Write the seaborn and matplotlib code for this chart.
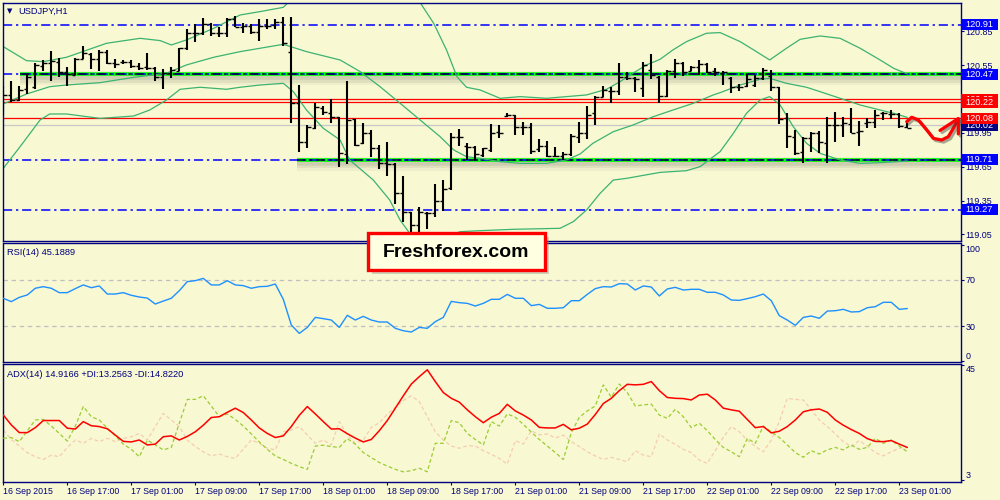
import numpy as np
import pandas as pd
import matplotlib
matplotlib.use("Agg")
import matplotlib.pyplot as plt
import matplotlib.transforms as mtrans
import matplotlib.patheffects as pe
from matplotlib.patches import Rectangle
import seaborn as sns

sns.set_theme(style="white")
plt.rcParams['font.family'] = ['Liberation Sans', 'DejaVu Sans']

# ---------------- data ----------------
symbol = "USDJPY,H1"
time_labels = ["16 Sep 2015", "16 Sep 17:00", "17 Sep 01:00", "17 Sep 09:00",
               "17 Sep 17:00", "18 Sep 01:00", "18 Sep 09:00", "18 Sep 17:00",
               "21 Sep 01:00", "21 Sep 09:00", "21 Sep 17:00", "22 Sep 01:00",
               "22 Sep 09:00", "22 Sep 17:00", "23 Sep 01:00"]

open_ = [120.242, 120.287, 120.242, 120.337, 120.355, 120.547, 120.567, 120.582, 120.494, 120.464,
         120.603, 120.650, 120.603, 120.671, 120.573, 120.579, 120.582, 120.544, 120.538, 120.523,
         120.443, 120.479, 120.502, 120.701, 120.834, 120.834, 120.916, 120.834, 120.834, 120.958,
         120.893, 120.899, 120.849, 120.899, 120.908, 120.937, 120.671, 120.218, 119.872, 119.991,
         120.168, 120.124, 120.088, 119.763, 120.071, 119.858, 119.946, 119.813, 119.680, 119.674,
         119.414, 119.251, 119.133, 119.242, 119.242, 119.349, 119.458, 119.917, 119.834, 119.828,
         119.754, 119.798, 119.961, 120.100, 120.109, 120.005, 120.005, 119.804, 119.834, 119.745,
         119.745, 119.763, 119.917, 119.946, 120.124, 120.272, 120.325, 120.325, 120.443, 120.434,
         120.346, 120.508, 120.449, 120.278, 120.502, 120.567, 120.502, 120.538, 120.561, 120.502,
         120.485, 120.434, 120.360, 120.366, 120.375, 120.434, 120.455, 120.355, 120.079, 119.917,
         119.784, 119.902, 119.952, 119.864, 120.020, 120.020, 120.029, 119.961, 120.041, 120.050,
         120.124, 120.118, 120.118, 119.999]
high = [120.366, 120.411, 120.366, 120.473, 120.567, 120.597, 120.677, 120.612, 120.538, 120.612,
        120.721, 120.662, 120.686, 120.686, 120.603, 120.597, 120.597, 120.567, 120.662, 120.538,
        120.514, 120.538, 120.701, 120.869, 120.916, 120.967, 120.922, 120.887, 120.967, 120.988,
        120.928, 120.916, 120.958, 120.958, 120.958, 120.982, 120.982, 120.375, 120.020, 120.212,
        120.189, 120.248, 120.088, 120.411, 120.071, 120.035, 119.976, 119.843, 119.872, 119.680,
        119.568, 119.251, 119.290, 119.251, 119.497, 119.532, 119.946, 119.982, 119.864, 119.834,
        119.813, 120.029, 120.020, 120.124, 120.109, 120.050, 120.035, 119.893, 119.881, 119.828,
        119.784, 119.940, 120.050, 120.189, 120.278, 120.366, 120.355, 120.573, 120.494, 120.449,
        120.582, 120.650, 120.455, 120.508, 120.603, 120.582, 120.544, 120.597, 120.567, 120.523,
        120.502, 120.443, 120.384, 120.473, 120.464, 120.523, 120.508, 120.355, 120.124, 119.976,
        119.917, 119.961, 119.970, 120.094, 120.139, 120.088, 120.168, 120.059, 120.079, 120.153,
        120.139, 120.153, 120.130, 120.035]
low = [120.109, 120.227, 120.236, 120.295, 120.337, 120.502, 120.414, 120.443, 120.366, 120.464,
       120.603, 120.514, 120.502, 120.561, 120.523, 120.561, 120.523, 120.508, 120.508, 120.414,
       120.337, 120.434, 120.502, 120.686, 120.760, 120.819, 120.810, 120.798, 120.804, 120.887,
       120.840, 120.828, 120.769, 120.869, 120.869, 120.721, 120.041, 119.784, 119.813, 119.982,
       120.109, 120.041, 119.645, 119.674, 119.834, 119.852, 119.739, 119.627, 119.571, 119.319,
       119.163, 119.059, 119.044, 119.095, 119.201, 119.260, 119.444, 119.834, 119.710, 119.710,
       119.739, 119.784, 119.902, 120.088, 119.932, 119.932, 119.763, 119.784, 119.739, 119.733,
       119.710, 119.745, 119.858, 119.893, 120.020, 120.266, 120.218, 120.287, 120.420, 120.316,
       120.272, 120.426, 120.218, 120.272, 120.434, 120.455, 120.502, 120.464, 120.485, 120.455,
       120.375, 120.307, 120.325, 120.355, 120.355, 120.420, 120.325, 120.029, 119.813, 119.754,
       119.680, 119.784, 119.775, 119.680, 119.872, 119.911, 119.952, 119.834, 119.991, 119.991,
       120.065, 120.071, 119.991, 119.991]
close = [120.287, 120.242, 120.331, 120.449, 120.553, 120.567, 120.588, 120.494, 120.473, 120.603,
         120.656, 120.603, 120.671, 120.567, 120.561, 120.579, 120.544, 120.523, 120.523, 120.443,
         120.479, 120.508, 120.701, 120.834, 120.840, 120.916, 120.834, 120.834, 120.958, 120.893,
         120.899, 120.849, 120.899, 120.899, 120.937, 120.745, 120.212, 119.872, 120.005, 120.177,
         120.139, 120.088, 119.775, 120.065, 119.843, 119.946, 119.813, 119.680, 119.674, 119.414,
         119.251, 119.133, 119.251, 119.242, 119.349, 119.449, 119.917, 119.917, 119.828, 119.763,
         119.813, 119.952, 119.952, 120.109, 120.005, 119.999, 119.793, 119.834, 119.745, 119.745,
         119.763, 119.923, 119.952, 120.109, 120.272, 120.331, 120.325, 120.443, 120.434, 120.426,
         120.553, 120.464, 120.278, 120.502, 120.573, 120.494, 120.532, 120.561, 120.494, 120.494,
         120.494, 120.355, 120.360, 120.426, 120.434, 120.508, 120.355, 120.071, 119.923, 119.775,
         119.902, 119.952, 119.872, 120.020, 120.020, 120.035, 119.952, 119.970, 120.050, 120.109,
         120.124, 120.118, 120.011, 119.991]

# Bollinger bands, sampled at bar positions
bb_upper_t = [0, 2.9, 5, 7.9, 12.9, 17.1, 19.6, 21, 22.9, 26.3, 29.6, 32.1, 35, 35.6, 37.9, 40,
              42.1, 44, 46.25, 48.3, 50.5, 52.1, 53.8, 55.4, 56.7, 57.9, 59.6, 62.1, 64.6, 67.9,
              72.9, 75.4, 77.1, 78.7, 80.4, 82.1, 83.7, 85.4, 87.9, 89.6, 92.1, 93.8, 95.8, 97.9,
              99.6, 102.1, 104.6, 107.1, 109.6, 111.3, 113]
bb_upper = [120.715, 120.591, 120.582, 120.621, 120.745, 120.789, 120.769, 120.730, 120.775,
            120.878, 120.996, 121.026, 121.064, 121.106, 121.19, 121.27, 121.31, 121.33, 121.27,
            121.22, 121.20, 121.106, 120.922, 120.686, 120.449, 120.355, 120.331, 120.257, 120.272,
            120.257, 120.287, 120.337, 120.405, 120.479, 120.553, 120.603, 120.686, 120.760,
            120.834, 120.840, 120.760, 120.686, 120.597, 120.701, 120.780, 120.810, 120.789,
            120.701, 120.597, 120.523, 120.473]
bb_mid_t = [0, 2.9, 5.8, 7.9, 12.1, 16.3, 20.4, 22.9, 26.3, 29.6, 32.1, 35, 37.9, 42.1, 44.6,
            47.1, 49.6, 52.1, 54.6, 56.3, 57.9, 59.6, 62.1, 64.6, 67.9, 70.4, 72.1, 73.7, 76.25,
            78.7, 81.25, 83.7, 86.25, 88.75, 89.6, 92.1, 94.6, 95.8, 97.9, 100.4, 102.1, 104.6,
            107.1, 109.6, 111.3, 113]
bb_mid = [120.207, 120.295, 120.360, 120.375, 120.396, 120.443, 120.479, 120.553, 120.621,
          120.671, 120.701, 120.736, 120.671, 120.597, 120.494, 120.360, 120.213, 120.065,
          119.917, 119.799, 119.739, 119.725, 119.695, 119.680, 119.680, 119.710, 119.763,
          119.858, 119.961, 120.020, 120.094, 120.153, 120.213, 120.287, 120.307, 120.375,
          120.426, 120.434, 120.390, 120.355, 120.316, 120.257, 120.198, 120.153, 120.124, 120.088]
bb_lower_t = [0, 2.1, 4.6, 5.8, 7.9, 12.1, 16.3, 18.3, 20.4, 22.1, 24.6, 27.9, 29.6, 32.1, 35,
              36.25, 37.9, 40, 42.1, 43.3, 46.25, 48.3, 49.6, 50.8, 52.5, 55, 57.1, 59.6, 63.75,
              69.6, 71.25, 72.9, 74.6, 76.25, 77.9, 82.1, 85.4, 87.1, 88.75, 89.6, 91.25, 92.9,
              94.6, 95.8, 97.1, 98.75, 100.4, 102.1, 104.6, 107.1, 109.6, 113]
bb_lower = [119.636, 119.828, 120.065, 120.118, 120.118, 120.079, 120.100, 120.153, 120.242,
            120.337, 120.355, 120.337, 120.355, 120.375, 120.390, 120.316, 120.153, 119.991,
            119.887, 119.710, 119.532, 119.355, 119.177, 119.059, 119.00, 119.02, 119.074,
            119.083, 119.095, 119.104, 119.163, 119.266, 119.414, 119.532, 119.547, 119.600,
            119.615, 119.651, 119.739, 119.784, 119.946, 120.124, 120.242, 120.272, 120.198,
            120.005, 119.858, 119.769, 119.710, 119.680, 119.686, 119.700]

rsi = [54.1, 51.2, 54.9, 57.0, 62.8, 64.2, 62.8, 59.0, 59.0, 62.5,
       65.7, 63.3, 64.8, 57.8, 57.8, 59.0, 56.7, 55.2, 54.3, 49.1,
       51.7, 54.1, 60.7, 68.6, 69.4, 71.4, 65.7, 65.7, 69.4, 65.7,
       65.1, 62.8, 64.2, 64.5, 66.5, 53.2, 30.9, 23.6, 28.8, 37.5,
       36.4, 35.2, 28.8, 39.3, 35.2, 38.4, 35.2, 33.5, 33.5, 28.0,
       25.9, 24.8, 28.8, 28.0, 33.8, 37.5, 51.4, 50.3, 49.7, 47.4,
       49.7, 53.2, 53.2, 57.5, 54.1, 54.1, 47.7, 48.8, 45.4, 45.4,
       45.9, 52.0, 52.0, 57.5, 62.5, 64.2, 63.9, 66.8, 66.5, 61.3,
       64.8, 63.9, 56.1, 62.2, 63.6, 61.3, 61.9, 61.9, 59.3, 59.3,
       57.0, 52.6, 52.3, 53.8, 55.5, 57.8, 52.0, 39.0, 35.2, 30.6,
       37.5, 38.7, 36.7, 43.0, 43.3, 44.5, 42.2, 42.5, 45.9, 46.8,
       50.6, 50.6, 44.5, 45.2]

adx = [26.7, 23.1, 20.3, 20.3, 22.1, 24.7, 24.7, 24.7, 21.9, 21.6,
       24.3, 22.8, 22.5, 21.7, 19.4, 17.1, 16.9, 17.6, 15.8, 16.1,
       18.8, 19.1, 17.6, 18.9, 20.6, 23.0, 25.8, 26.1, 27.7, 29.2,
       27.6, 24.9, 22.0, 20.0, 18.5, 19.1, 22.5, 26.6, 29.8, 27.1,
       24.3, 21.6, 21.7, 19.9, 18.3, 16.9, 17.8, 21.0, 24.7, 29.2,
       33.7, 38.0, 40.7, 43.2, 38.9, 34.9, 32.8, 31.4, 28.6, 26.1,
       23.9, 25.9, 27.3, 30.6, 28.2, 26.7, 24.9, 22.2, 22.0, 22.0,
       23.3, 21.3, 21.9, 23.4, 26.9, 30.9, 32.8, 35.6, 37.9, 37.7,
       37.9, 38.9, 35.6, 33.1, 32.8, 32.7, 32.2, 34.0, 34.3, 32.2,
       29.2, 28.6, 28.1, 25.1, 22.1, 22.5, 20.2, 20.8, 22.5, 24.9,
       27.9, 28.6, 28.9, 27.7, 24.9, 23.0, 21.4, 20.0, 18.1, 17.1,
       17.0, 17.4, 16.1, 14.9]
plus_di = [18.2, 18.5, 17.0, 21.0, 24.9, 25.1, 22.7, 20.0, 17.2, 22.7,
           29.8, 26.1, 24.9, 21.9, 19.1, 16.1, 14.2, 11.5, 17.6, 15.8,
           14.0, 14.9, 23.7, 32.4, 32.4, 33.7, 30.0, 26.1, 27.1, 25.1,
           22.7, 19.8, 16.9, 14.2, 11.8, 10.5, 9.1, 7.9, 6.9, 15.4,
           15.7, 15.2, 14.9, 18.1, 16.1, 13.0, 11.2, 9.4, 8.1, 6.9,
           6.0, 6.4, 7.3, 6.0, 16.4, 16.4, 24.7, 23.9, 20.0, 17.8,
           15.8, 24.3, 22.7, 27.1, 25.9, 23.3, 20.5, 17.8, 15.4, 13.0,
           10.5, 20.3, 25.9, 28.2, 30.0, 37.7, 33.2, 38.0, 34.9, 30.0,
           30.4, 30.7, 26.7, 25.5, 28.8, 26.1, 22.1, 23.7, 21.0, 17.8,
           14.9, 13.3, 11.5, 18.2, 16.4, 22.7, 20.6, 18.5, 15.8, 13.0,
           11.3, 13.7, 12.5, 14.0, 14.9, 14.0, 15.8, 14.2, 14.9, 18.2,
           16.4, 17.6, 15.4, 13.3]
minus_di = [21.2, 17.8, 15.4, 13.0, 11.5, 10.5, 12.1, 11.5, 14.9, 17.6,
            16.4, 18.2, 17.0, 18.2, 17.0, 18.2, 18.8, 20.0, 17.6, 22.5,
            27.3, 24.9, 22.5, 17.6, 15.2, 13.3, 11.8, 12.5, 11.5, 10.9,
            14.3, 17.6, 16.4, 14.6, 14.0, 20.6, 21.2, 22.5, 19.4, 16.4,
            17.6, 15.8, 24.3, 19.4, 16.4, 17.6, 22.2, 23.9, 27.0, 29.5,
            32.0, 33.7, 31.6, 26.1, 20.6, 17.6, 15.4, 14.6, 15.5, 15.4,
            13.7, 12.4, 10.9, 8.8, 17.4, 16.1, 21.0, 19.5, 19.8, 18.3,
            19.4, 17.0, 15.2, 13.3, 11.8, 10.5, 11.3, 10.5, 9.7, 13.7,
            12.1, 11.5, 19.8, 17.6, 16.0, 14.2, 13.0, 10.3, 9.1, 13.7,
            18.6, 22.5, 20.6, 17.6, 15.2, 13.3, 17.6, 24.3, 32.8, 32.4,
            32.2, 28.6, 24.9, 22.5, 19.8, 17.0, 15.2, 17.4, 15.4, 13.0,
            11.8, 13.3, 14.6, 14.8]

price_ticks = [120.85, 120.55, 120.25, 119.95, 119.65, 119.35, 119.05]
blue_levels = [120.91, 120.47, 119.71, 119.27]
red_levels = [120.25, 120.22, 120.08]
bid_level = 120.02
green_levels = [120.47, 119.71]
green_start_bar = [2.1, 36.7]
price_tags = [(120.91, "blue"), (120.47, "blue"), (120.25, "red"), (120.22, "red"),
              (120.02, "navy"), (120.08, "red"), (119.71, "blue"), (119.27, "blue")]
# hand-drawn forecast arrow (bar index, price)
arrow_t = [112.93, 113.55, 114.38, 115.43, 116.25, 117.30, 118.13, 118.75, 119.38]
arrow_p = [120.050, 120.089, 120.065, 119.976, 119.902, 119.887, 119.917, 119.991, 120.071]
head_t = [117.09, 119.38, 119.38]
head_p = [119.972, 120.078, 119.941]

# ---------------- style ----------------
BG = "#F8F8D2"
NAVY = "#000080"
BLUE = "#0000FF"
GREEN_BB = "#3CB371"
FS = 6.4

n = len(close)
idx = np.arange(n)
df = pd.DataFrame({"bar": idx, "open": open_, "high": high, "low": low, "close": close,
                   "rsi": rsi, "adx": adx, "pdi": plus_di, "mdi": minus_di})

W, H = 1000, 500
fig = plt.figure(figsize=(10, 5), dpi=100, facecolor=BG)


def px_axes(left, top, right, bottom):
    return fig.add_axes([left / W, 1 - bottom / H, (right - left) / W, (bottom - top) / H])


ax1 = px_axes(2.7, 2.7, 960.7, 240.7)
ax2 = px_axes(2.7, 243.5, 960.7, 361.7)
ax3 = px_axes(2.7, 364.3, 960.7, 481.7)
XMIN, XMAX = -0.075, 119.675

for ax in (ax1, ax2, ax3):
    ax.set_facecolor(BG)
    ax.set_xlim(XMIN, XMAX)
    for s in ax.spines.values():
        s.set_color(NAVY)
        s.set_linewidth(1.0)
    ax.tick_params(axis="y", left=False, right=True, labelleft=False, labelright=True,
                   direction="out", length=2, width=0.8, color=NAVY, labelcolor=NAVY,
                   labelsize=FS, pad=1.5)
    ax.tick_params(axis="x", bottom=False, labelbottom=False)
    ax.grid(False)

# ---------------- main price panel ----------------
ax1.set_ylim(118.994, 121.105)
ax1.set_yticks(price_ticks)
# the 120.25 scale label is fully covered by the price tags in the original
ax1.set_yticklabels(["" if abs(v - 120.25) < 1e-6 else f"{v:.2f}" for v in price_ticks])

# Bollinger bands
for t, v in ((bb_upper_t, bb_upper), (bb_mid_t, bb_mid), (bb_lower_t, bb_lower)):
    sns.lineplot(x=t, y=v, ax=ax1, color=GREEN_BB, lw=0.9, zorder=2)

# support/resistance zones: shadow + lime + dash-dot
for lvl, st in zip(green_levels, green_start_bar):
    for off, lw_, a in ((0.032, 10, 0.06), (0.029, 7, 0.09), (0.025, 4, 0.12)):
        ax1.hlines(lvl - off, st, XMAX, color="#505050", lw=lw_, alpha=a, zorder=1.2)
    ax1.hlines(lvl, st, XMAX, color="#00FF00", lw=2.6, zorder=1.6)

for lvl in blue_levels:
    ax1.axhline(lvl, color=BLUE, lw=1.1, ls=(0, (6, 2.5, 1.5, 2.5)), zorder=1.8)
for lvl, st in zip(green_levels, green_start_bar):
    ax1.hlines(lvl, st, XMAX, color="#000040", lw=1.1, ls=(0, (6, 2.5, 1.5, 2.5)), zorder=1.9)

for lvl in red_levels:
    ax1.axhline(lvl, color="#FF0000", lw=0.9, zorder=1.7)
ax1.axhline(bid_level, color="#C8C8C8", lw=0.9, zorder=1.5)

# OHLC bars
ax1.vlines(df["bar"], df["low"], df["high"], color="black", lw=1.5, zorder=4)
ax1.hlines(df["open"], df["bar"] - 0.42, df["bar"], color="black", lw=1.0, zorder=4)
ax1.hlines(df["close"], df["bar"], df["bar"] + 0.42, color="black", lw=1.0, zorder=4)

# forecast arrow
shadow = [pe.SimpleLineShadow(offset=(1.5, -1.5), shadow_color="#404040", alpha=0.45), pe.Normal()]
ax1.plot(arrow_t, arrow_p, color="#FF0000", lw=2.3, solid_capstyle="round",
         solid_joinstyle="round", zorder=6, path_effects=shadow)
ax1.plot(head_t, head_p, color="#FF0000", lw=2.3, solid_capstyle="round",
         solid_joinstyle="round", zorder=6, path_effects=shadow)

# price tags on the right axis
tagtr = mtrans.blended_transform_factory(ax1.transAxes, ax1.transData)
tag_h = 11 / 112.7
tag_boxes = {}
for lvl, c in price_tags:
    tag_boxes[lvl] = (lvl - tag_h / 2, lvl + tag_h / 2)
for k, (lvl, c) in enumerate(price_tags):
    ax1.add_patch(Rectangle((1.0, lvl - tag_h / 2), 0.0385, tag_h, transform=tagtr,
                            fc=c, ec="none", clip_on=False, zorder=7 + 0.01 * k))
    t = ax1.text(1.0195, lvl, f"{lvl:.2f}", transform=tagtr, ha="center", va="center",
                 color="white", fontsize=FS + 0.2, zorder=7.005 + 0.01 * k)
    # visible part only, where a later tag lies on top
    lo, hi = lvl - tag_h / 2, lvl + tag_h / 2
    for lvl2, _ in price_tags[k + 1:]:
        lo2, hi2 = tag_boxes[lvl2]
        if lo2 < hi and hi2 > lo:
            if lvl2 < lvl:
                lo = max(lo, hi2)
            else:
                hi = min(hi, lo2)
    if (lo, hi) != (lvl - tag_h / 2, lvl + tag_h / 2):
        bb = mtrans.TransformedBbox(mtrans.Bbox([[1.0, lo], [1.0385, hi]]), tagtr)
        t.set_clip_box(bb)
        t.set_clip_on(True)
    else:
        t.set_clip_on(False)

ax1.text(0.0069, 0.965, "\u25BC", transform=ax1.transAxes, ha="center", va="center",
         fontsize=5, color=NAVY, family=["DejaVu Sans"])
ax1.text(0.0163, 0.965, symbol, transform=ax1.transAxes, ha="left", va="center",
         fontsize=6.7, color=NAVY)

# ---------------- RSI panel ----------------
ax2.set_ylim(-1.0, 101.7)
for lvl in (70, 30):
    ax2.axhline(lvl, color="#C0C0C0", lw=0.9, ls=(0, (3.5, 3)), zorder=1)
sns.lineplot(data=df, x="bar", y="rsi", ax=ax2, color="#1E90FF", lw=1.0, zorder=3)
ax2.set_yticks([0, 30, 70, 100])
ax2.set_yticklabels(["0", "30", "70", "100"])
for lbl, v in zip(ax2.get_yticklabels(), [0, 30, 70, 100]):
    if v == 100:
        lbl.set_va("top")
    elif v == 0:
        lbl.set_va("bottom")
ax2.text(0.0045, 0.922, "RSI(14) 45.1889", transform=ax2.transAxes, ha="left",
         va="center", fontsize=6.7, color=NAVY)

# ---------------- ADX panel ----------------
ax3.set_ylim(2.4, 45.2)
l_mdi = sns.lineplot(data=df, x="bar", y="mdi", ax=ax3, color="#F5CDB0", lw=0.9, zorder=2)
l_mdi.lines[-1].set_linestyle((0, (3, 2)))
l_pdi = sns.lineplot(data=df, x="bar", y="pdi", ax=ax3, color="#9ACD32", lw=0.9, zorder=3)
l_pdi.lines[-1].set_linestyle((0, (3, 2)))
sns.lineplot(data=df, x="bar", y="adx", ax=ax3, color="#FF0000", lw=1.1, zorder=4)
ax3.set_yticks([3, 45])
ax3.set_yticklabels(["3", "45"])
for lbl, v in zip(ax3.get_yticklabels(), [3, 45]):
    lbl.set_va("bottom" if v == 3 else "top")
ax3.text(0.0045, 0.917, "ADX(14) 14.9166 +DI:13.2563 -DI:14.8220", transform=ax3.transAxes,
         ha="left", va="center", fontsize=6.7, color=NAVY)

ax3.set_xticks(np.arange(len(time_labels)) * 8)
ax3.set_xticklabels(time_labels, ha="left")
ax3.tick_params(axis="x", bottom=True, labelbottom=True, direction="out", length=2.5,
                width=0.8, color=NAVY, labelcolor=NAVY, labelsize=6.3, pad=1.5)

for ax in (ax1, ax2, ax3):
    ax.set_xlabel("")
    ax.set_ylabel("")
    leg = ax.get_legend()
    if leg:
        leg.remove()

# ---------------- watermark box ----------------
bx, by, bw, bh = 368, 233, 177, 37
fig.patches.append(Rectangle(((bx + 4) / W, 1 - (by + bh + 4) / H), bw / W, bh / H,
                             transform=fig.transFigure, fc="#808080", ec="none",
                             alpha=0.35, zorder=9))
fig.patches.append(Rectangle((bx / W, 1 - (by + bh) / H), bw / W, bh / H,
                             transform=fig.transFigure, fc="#FFFFE1", ec="#FF0000",
                             lw=2.4, zorder=10))
fig.text((bx + bw / 2) / W, 1 - (by + bh / 2 + 1) / H, "Freshforex.com", ha="center",
         va="center", fontsize=14, fontweight="bold", color="black", zorder=11)

fig.savefig("out.png", dpi=100, facecolor=BG)
